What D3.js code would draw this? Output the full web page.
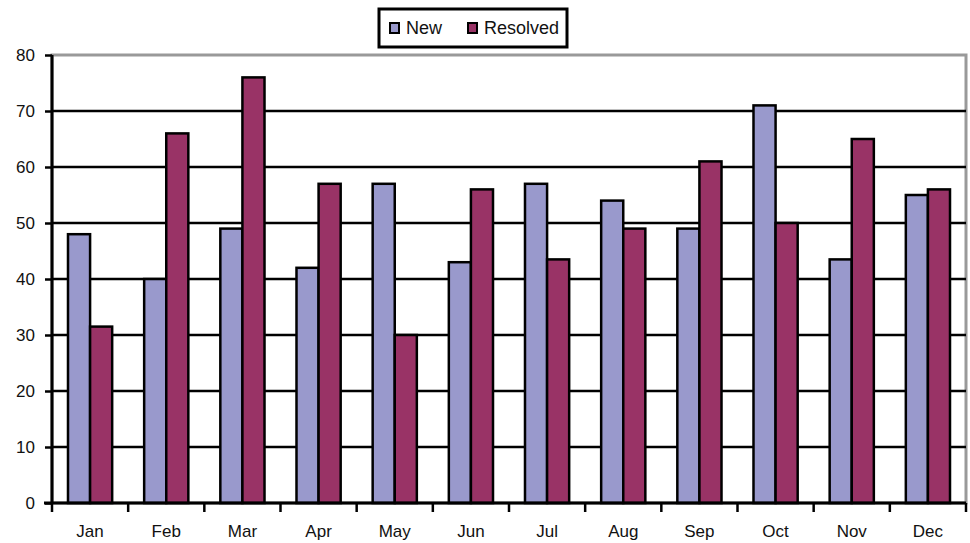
<!DOCTYPE html>
<html><head><meta charset="utf-8">
<script src="https://cdn.jsdelivr.net/npm/d3@7/dist/d3.min.js"></script>
<style>body{margin:0;background:#fff}svg{display:block}text{font-family:"Liberation Sans",Arial,sans-serif}</style>
</head><body><svg id="c" width="970" height="543"></svg>
<script>
const months = ["Jan","Feb","Mar","Apr","May","Jun","Jul","Aug","Sep","Oct","Nov","Dec"];
const seriesNames = ["New","Resolved"];
const newVals = [48,40,49,42,57,43,57,54,49,71,43.5,55];
const resolvedVals = [31.5,66,76,57,30,56,43.5,49,61,50,65,56];
const yTicks = [0,10,20,30,40,50,60,70,80];
const colors = ["#9999cc","#993366"];

const svg = d3.select("#c");
const m = {l:52, r:4, t:55, b:40};
const W = 970, H = 543;
const x = d3.scaleBand().domain(months).range([m.l, W - m.r]).paddingInner(0.42).paddingOuter(0.21);
const xs = d3.scaleBand().domain(seriesNames).range([0, x.bandwidth()]);
const y = d3.scaleLinear().domain([0,80]).range([H - m.b, m.t]);

// plot border (top/right, grey)
svg.append("rect").attr("x", m.l).attr("y", y(80)).attr("width", W - m.r - m.l).attr("height", y(0) - y(80))
  .attr("fill", "none").attr("stroke", "#999").attr("stroke-width", 3);

// gridlines
svg.append("g").selectAll("line").data(yTicks.filter(d => d > 0 && d < 80)).join("line")
  .attr("x1", m.l).attr("x2", W - m.r).attr("y1", d => y(d)).attr("y2", d => y(d))
  .attr("stroke", "#000").attr("stroke-width", 2.5);

// bars
const data = months.map((mo, i) => ({mo, vals: [newVals[i], resolvedVals[i]]}));
svg.append("g").selectAll("g").data(data).join("g")
  .attr("transform", d => `translate(${x(d.mo)},0)`)
  .selectAll("rect").data(d => d.vals.map((v, j) => ({v, s: seriesNames[j], j}))).join("rect")
  .attr("x", d => xs(d.s)).attr("width", xs.bandwidth())
  .attr("y", d => y(d.v)).attr("height", d => y(0) - y(d.v))
  .attr("fill", d => colors[d.j]).attr("stroke", "#000").attr("stroke-width", 2.5);

// y axis
const ya = svg.append("g").attr("transform", `translate(${m.l},0)`)
  .call(d3.axisLeft(y).tickValues(yTicks).tickSize(7).tickPadding(10));
ya.select(".domain").attr("stroke-width", 3).attr("d", `M-0,${y(80)}V${y(0)}`);
ya.selectAll(".tick line").attr("stroke-width", 2.5);
ya.selectAll("text").attr("font-size", 17).attr("fill", "#111").attr("font-family", "Liberation Sans, Arial, sans-serif");

// x axis
const step = x.step();
const xa = svg.append("g").attr("transform", `translate(0,${y(0)})`);
xa.append("line").attr("x1", m.l - 8).attr("x2", W - m.r).attr("y1", 0).attr("y2", 0).attr("stroke", "#000").attr("stroke-width", 3);
xa.selectAll("line.t").data(d3.range(months.length + 1)).join("line").attr("class","t")
  .attr("x1", i => m.l + i * step).attr("x2", i => m.l + i * step).attr("y1", 0).attr("y2", 9)
  .attr("stroke", "#000").attr("stroke-width", 2.5);
xa.selectAll("text").data(months).join("text")
  .attr("x", d => x(d) + x.bandwidth() / 2).attr("y", 34).attr("text-anchor", "middle")
  .attr("font-size", 17).attr("fill", "#111").text(d => d);

// legend
const lg = svg.append("g");
lg.append("rect").attr("x", 379).attr("y", 9).attr("width", 188).attr("height", 38)
  .attr("fill", "#fff").attr("stroke", "#000").attr("stroke-width", 3);
const items = [{n:"New", c:colors[0], x:390}, {n:"Resolved", c:colors[1], x:468}];
items.forEach(it => {
  lg.append("rect").attr("x", it.x).attr("y", 23).attr("width", 9).attr("height", 10)
    .attr("fill", it.c).attr("stroke", "#000").attr("stroke-width", 2);
  lg.append("text").attr("x", it.x + 16).attr("y", 34).attr("font-size", 18).attr("fill", "#111").text(it.n);
});
</script></body></html>
